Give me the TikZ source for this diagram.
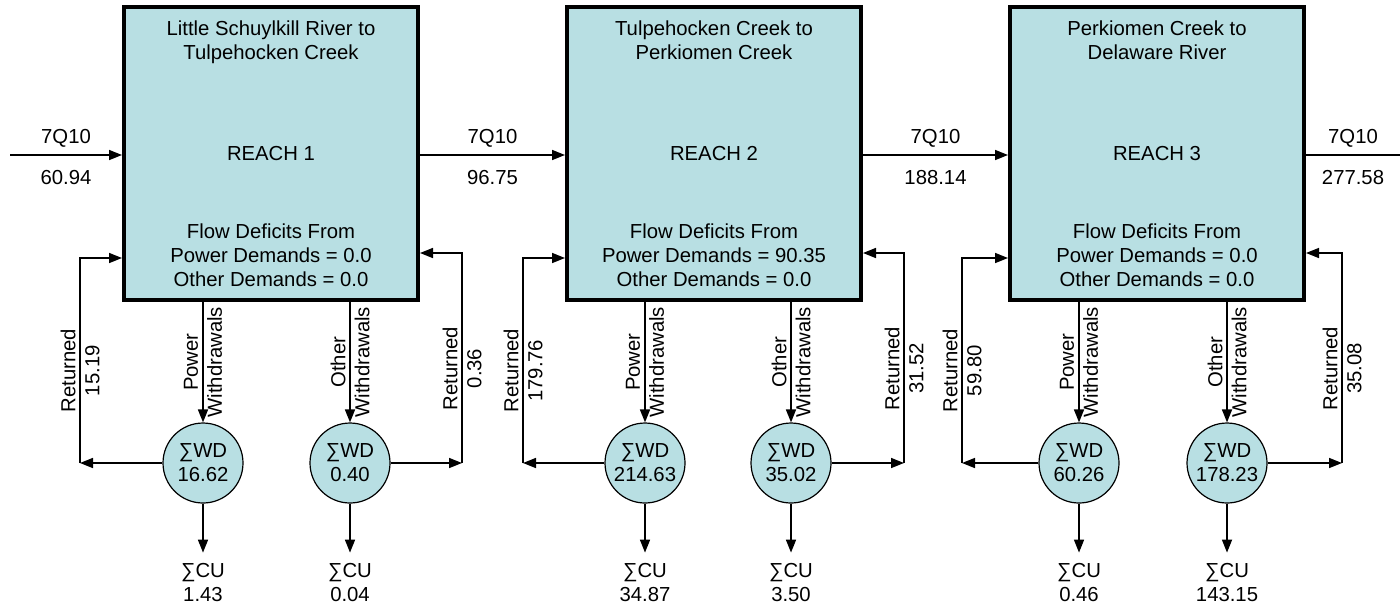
\documentclass[tikz,border=0pt]{standalone}
\usepackage{fontspec}
\setmainfont{Liberation Sans}
\usetikzlibrary{positioning,arrows.meta}
\definecolor{reachfill}{RGB}{184,223,227}

\begin{document}
\begin{tikzpicture}[
  x=0.5pt, y=0.5pt,
  font=\fontsize{10.15}{12}\selectfont,
  reach/.style={rectangle, draw=black, line width=2pt, fill=reachfill, align=center,
                minimum width=147pt, minimum height=146.5pt},
  inbox/.style={align=center, inner sep=0pt},
  pool/.style={circle, draw=black, line width=0.6pt, fill=reachfill, align=center,
               minimum size=40pt, inner sep=0pt},
  cu/.style={align=center, inner sep=5pt},
  vlab/.style={rotate=90, align=center, inner sep=0pt},
  arr/.style={-{Triangle[length=6.5pt, width=5pt]}, line width=0.8pt},
  flow/.style={line width=0.8pt}
]
\useasboundingbox (0,0) rectangle (1400,-606);

% reaches
\node[reach] (reach1) at (271,-153.5) {REACH 1};
\node[reach, right=72.5pt of reach1] (reach2) {REACH 2};
\node[reach, right=72.5pt of reach2] (reach3) {REACH 3};

\node[inbox, below=7.8pt of reach1.north] (title1) {Little Schuylkill River to\\Tulpehocken Creek};
\node[inbox, below=7.8pt of reach2.north] (title2) {Tulpehocken Creek to\\Perkiomen Creek};
\node[inbox, below=7.8pt of reach3.north] (title3) {Perkiomen Creek to\\Delaware River};

\node[inbox, above=7.5pt of reach1.south] (deficit1)
  {Flow Deficits From\\Power Demands = 0.0\\Other Demands = 0.0};
\node[inbox, above=7.5pt of reach2.south] (deficit2)
  {Flow Deficits From\\Power Demands = 90.35\\Other Demands = 0.0};
\node[inbox, above=7.5pt of reach3.south] (deficit3)
  {Flow Deficits From\\Power Demands = 0.0\\Other Demands = 0.0};

% 7Q10 flows along the river
\coordinate (src) at (10,-155);
\coordinate (sink) at (1400,-155);
\draw[arr] (src) -- node[inbox, above=3.5pt] (q0) {7Q10}
  node[inbox, below=7.5pt] (v0) {60.94} (src -| reach1.west);
\draw[arr] (src -| reach1.east) -- node[inbox, above=3.5pt] (q1) {7Q10}
  node[inbox, below=7.5pt] (v1) {96.75} (src -| reach2.west);
\draw[arr] (src -| reach2.east) -- node[inbox, above=3.5pt] (q2) {7Q10}
  node[inbox, below=7.5pt] (v2) {188.14} (src -| reach3.west);
\draw[flow] (src -| reach3.east) -- node[inbox, above=3.5pt] (q3) {7Q10}
  node[inbox, below=7.5pt] (v3) {277.58} (sink);

% withdrawal pools
\node[pool] (wd1p) at (203,-463) {∑WD\\16.62};
\node[pool] (wd1o) at (350,-463) {∑WD\\0.40};
\node[pool] (wd2p) at (645,-463) {∑WD\\214.63};
\node[pool] (wd2o) at (791,-463) {∑WD\\35.02};
\node[pool] (wd3p) at (1079,-463) {∑WD\\60.26};
\node[pool] (wd3o) at (1227,-463) {∑WD\\178.23};

\node[cu, below=24.5pt of wd1p] (cu1p) {∑CU\\1.43};
\node[cu, below=24.5pt of wd1o] (cu1o) {∑CU\\0.04};
\node[cu, below=24.5pt of wd2p] (cu2p) {∑CU\\34.87};
\node[cu, below=24.5pt of wd2o] (cu2o) {∑CU\\3.50};
\node[cu, below=24.5pt of wd3p] (cu3p) {∑CU\\0.46};
\node[cu, below=24.5pt of wd3o] (cu3o) {∑CU\\143.15};

\draw[arr] (wd1p.north |- reach1.south) -- node[vlab] (lp1) {Power\\Withdrawals} (wd1p);
\draw[arr] (wd1o.north |- reach1.south) -- node[vlab] (lo1) {Other\\Withdrawals} (wd1o);
\draw[arr] (wd2p.north |- reach2.south) -- node[vlab] (lp2) {Power\\Withdrawals} (wd2p);
\draw[arr] (wd2o.north |- reach2.south) -- node[vlab] (lo2) {Other\\Withdrawals} (wd2o);
\draw[arr] (wd3p.north |- reach3.south) -- node[vlab] (lp3) {Power\\Withdrawals} (wd3p);
\draw[arr] (wd3o.north |- reach3.south) -- node[vlab] (lo3) {Other\\Withdrawals} (wd3o);

\draw[arr] (wd1p) -- (cu1p);
\draw[arr] (wd1o) -- (cu1o);
\draw[arr] (wd2p) -- (cu2p);
\draw[arr] (wd2o) -- (cu2o);
\draw[arr] (wd3p) -- (cu3p);
\draw[arr] (wd3o) -- (cu3o);

% return flows
\coordinate (ret1l) at (80,-463);   \coordinate (top1l) at (80,-258);
\coordinate (ret1r) at (462,-463);  \coordinate (top1r) at (462,-253);
\coordinate (ret2l) at (523,-463);  \coordinate (top2l) at (523,-258);
\coordinate (ret2r) at (904,-463);  \coordinate (top2r) at (904,-253);
\coordinate (ret3l) at (962,-463);  \coordinate (top3l) at (962,-258);
\coordinate (ret3r) at (1342,-463); \coordinate (top3r) at (1342,-253);

\draw[arr] (wd1p) -- (ret1l);
\draw[arr] (ret1l) -- node[vlab, pos=0.45] (rl1) {Returned\\15.19} (top1l) -- (top1l -| reach1.west);
\draw[arr] (wd1o) -- (ret1r);
\draw[arr] (ret1r) -- node[vlab, pos=0.45] (rr1) {Returned\\0.36} (top1r) -- (top1r -| reach1.east);
\draw[arr] (wd2p) -- (ret2l);
\draw[arr] (ret2l) -- node[vlab, pos=0.45] (rl2) {Returned\\179.76} (top2l) -- (top2l -| reach2.west);
\draw[arr] (wd2o) -- (ret2r);
\draw[arr] (ret2r) -- node[vlab, pos=0.45] (rr2) {Returned\\31.52} (top2r) -- (top2r -| reach2.east);
\draw[arr] (wd3p) -- (ret3l);
\draw[arr] (ret3l) -- node[vlab, pos=0.45] (rl3) {Returned\\59.80} (top3l) -- (top3l -| reach3.west);
\draw[arr] (wd3o) -- (ret3r);
\draw[arr] (ret3r) -- node[vlab, pos=0.45] (rr3) {Returned\\35.08} (top3r) -- (top3r -| reach3.east);
\end{tikzpicture}
\end{document}
